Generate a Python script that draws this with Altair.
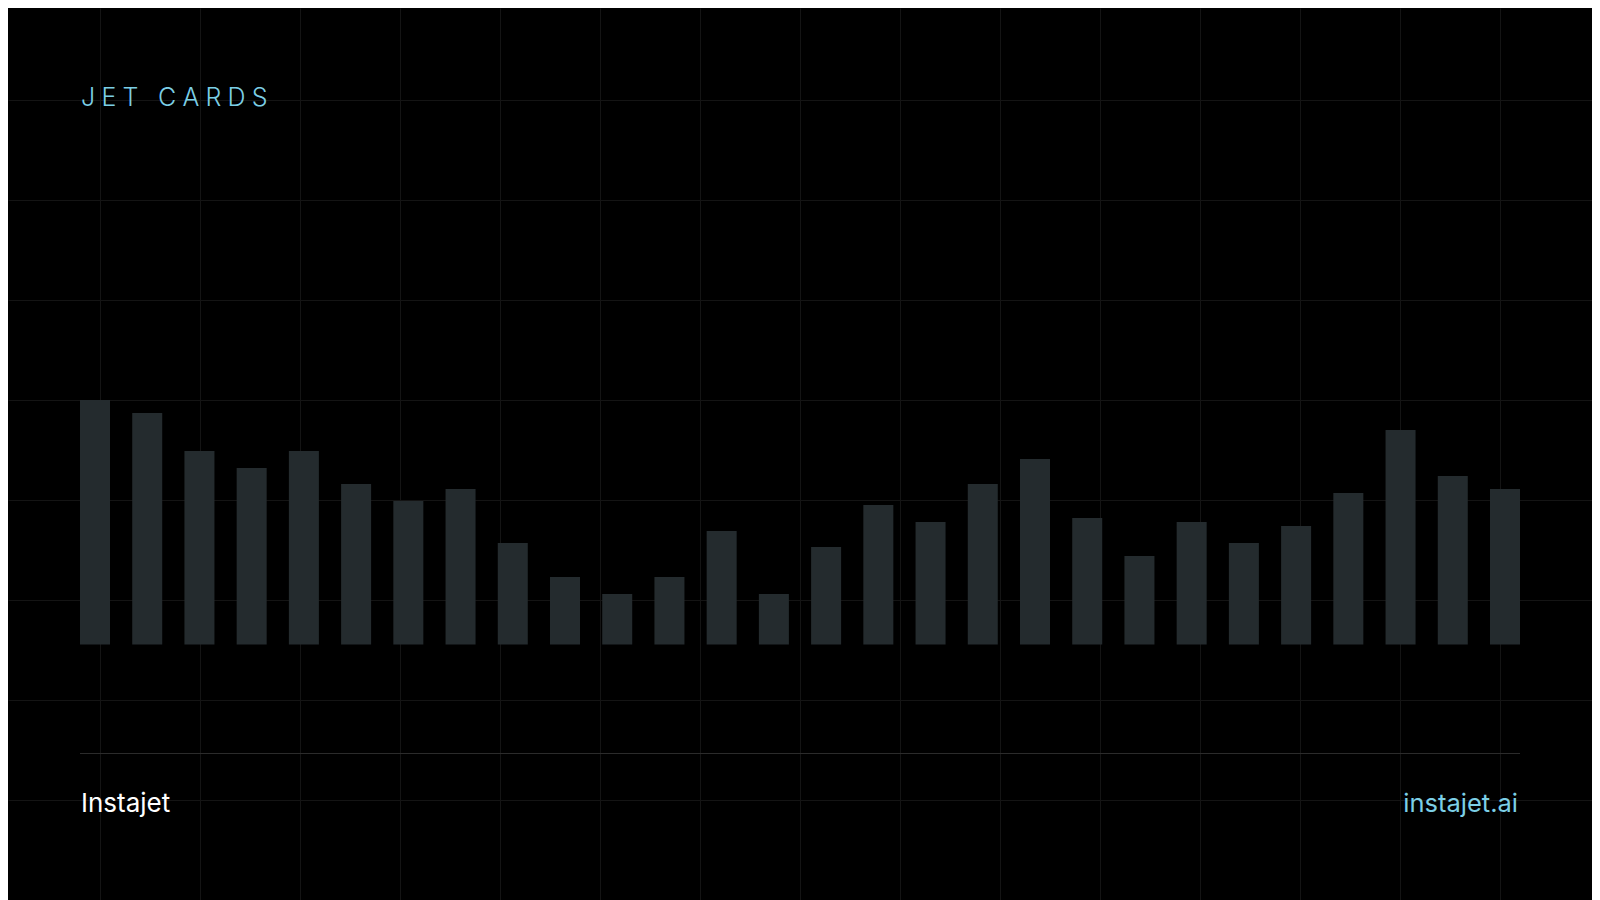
import altair as alt
import pandas as pd

# ---- data -------------------------------------------------------------
periods = ["P01", "P02", "P03", "P04", "P05", "P06", "P07", "P08", "P09", "P10",
           "P11", "P12", "P13", "P14", "P15", "P16", "P17", "P18", "P19", "P20",
           "P21", "P22", "P23", "P24", "P25", "P26", "P27", "P28"]
index_values = [100.0, 94.7, 79.1, 72.2, 79.1, 65.6, 58.7, 63.6, 41.5, 27.6,
                20.7, 27.6, 46.4, 20.7, 39.9, 57.1, 50.1, 65.6, 75.9, 51.7,
                36.2, 50.1, 41.5, 48.5, 62.0, 87.7, 68.9, 63.6]
grid_x_ticks = [100, 200, 300, 400, 500, 600, 700, 800, 900, 1000, 1100, 1200, 1300, 1400, 1500]
grid_y_ticks = [100, 200, 300, 400, 500, 600, 700, 800]
title_text = "JET CARDS"
brand_text = "Instajet"
site_text = "instajet.ai"

W, H = 1584, 892
FONT = "Inter"
CYAN = "#7ccfe6"
BAR = "#242b2e"
GRIDC = "#141414"

bars_df = pd.DataFrame({"period": periods, "value": index_values})

# background grid drawn through axis grids of a page-coordinate scale
grid = alt.Chart(pd.DataFrame({"gx": [50], "gy": [50]})).mark_point(opacity=0).encode(
    x=alt.X("gx:Q", scale=alt.Scale(domain=[8, 8 + W], nice=False, zero=False),
            axis=alt.Axis(values=grid_x_ticks, grid=True, gridColor=GRIDC, gridWidth=1,
                          labels=False, ticks=False, domain=False, title=None)),
    y=alt.Y("gy:Q", scale=alt.Scale(domain=[8, 8 + H], nice=False, zero=False, reverse=True),
            axis=alt.Axis(values=grid_y_ticks, grid=True, gridColor=GRIDC, gridWidth=1,
                          labels=False, ticks=False, domain=False, title=None)),
)

bars = alt.Chart(bars_df).mark_bar(color=BAR).encode(
    x=alt.X("period:N", sort=periods, axis=None,
            scale=alt.Scale(range=[72, 1512], paddingInner=0.4255, paddingOuter=0)),
    y=alt.Y("value:Q", axis=None,
            scale=alt.Scale(domain=[0, 100], range=[636.5, 392], nice=False)),
)

sep = alt.Chart(pd.DataFrame({"a": [0]})).mark_rule(color="#2b2b2b", strokeWidth=1).encode(
    x=alt.value(72), x2=alt.value(1512), y=alt.value(745.5)
)

# letter-spaced title (Vega text has no letterSpacing, so a four-per-em space separates letters)
title = alt.Chart(pd.DataFrame({"t": ["\u2005".join(list(title_text))]})).mark_text(
    align="left", baseline="alphabetic", font=FONT, fontSize=25, fontWeight=300, color=CYAN
).encode(x=alt.value(73), y=alt.value(98), text="t:N")

brand = alt.Chart(pd.DataFrame({"t": [brand_text]})).mark_text(
    align="left", baseline="alphabetic", font=FONT, fontSize=26, fontWeight=400, color="#ffffff"
).encode(x=alt.value(73), y=alt.value(804), text="t:N")

site = alt.Chart(pd.DataFrame({"t": [site_text]})).mark_text(
    align="right", baseline="alphabetic", font=FONT, fontSize=25.5, fontWeight=400, color=CYAN
).encode(x=alt.value(1510), y=alt.value(804), text="t:N")

chart = alt.layer(grid, bars, sep, title, brand, site).resolve_scale(
    x="independent", y="independent"
).properties(
    width=W, height=H, padding=0, autosize=alt.AutoSizeParams(type="none"),
    background="#000000"
).configure_view(stroke=None)

chart.save("out.html", embed_options={"renderer": "svg", "actions": False})
